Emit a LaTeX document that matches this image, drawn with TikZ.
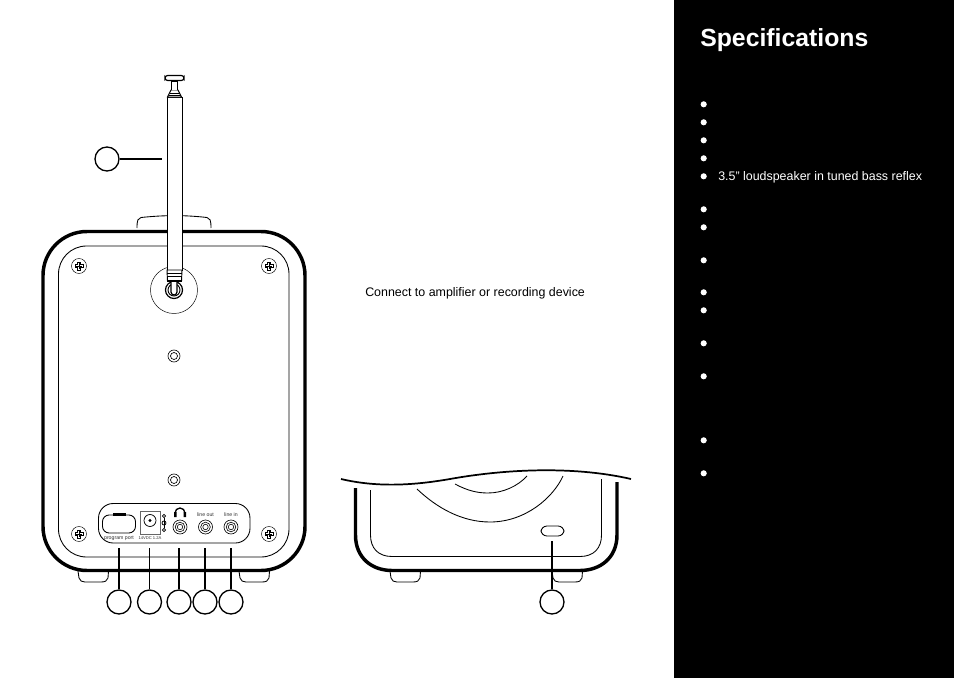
\documentclass[tikz,border=0pt]{standalone}
\usepackage{fontspec}
\setmainfont{Liberation Sans}
\usetikzlibrary{calc}
\tikzset{
  x=0.75pt,y=-0.75pt,
  callout/.style={circle,draw=black,line width=1pt,minimum size=18pt,inner sep=0pt,fill=white},
  leader/.style={line width=1.5pt},
  thinleader/.style={line width=0.9pt},
  heavy/.style={line width=2.6pt},
  fine/.style={line width=0.65pt},
  hair/.style={line width=0.35pt},
  bullet/.style={circle,fill=white,inner sep=0pt,minimum size=4.6pt},
  tiny label/.style={font=\fontsize{3.9}{4}\selectfont,inner sep=0pt,text=black!80}
}
\newcommand{\screwmark}[2]{%
  \draw[hair] (#1,#2) circle (7.5);
  \draw[line width=0.35pt,fill=white] (#1-1.5,#2-4) -- (#1+1.5,#2-4) -- (#1+1.5,#2-1.5) -- (#1+4,#2-1.5) -- (#1+4,#2+1.5) -- (#1+1.5,#2+1.5) -- (#1+1.5,#2+4) -- (#1-1.5,#2+4) -- (#1-1.5,#2+1.5) -- (#1-4,#2+1.5) -- (#1-4,#2-1.5) -- (#1-1.5,#2-1.5) -- cycle;
  \draw[line width=0.5pt] (#1-3,#2)--(#1+3,#2) (#1,#2-3)--(#1,#2+3);
}
\newcommand{\jackmark}[2]{%
  \draw[line width=0.45pt] (#1,#2) circle (7) (#1,#2) circle (4.8) (#1,#2) circle (2.7);
}
\begin{document}
\begin{tikzpicture}
\useasboundingbox (0,0) rectangle (954,678);
\fill[white] (0,0) rectangle (954,678);
\fill[black] (674,0) rectangle (954,678);

% ---- rear view ----
\draw[fine] (137,228) .. controls (137,220) and (138,218) .. (141,217.5) .. controls (165,215) and (185,215) .. (207,217.5) .. controls (210,218) and (211,220) .. (211,228);
\draw[fine,fill=white] (78,571) -- (79,578) .. controls (80,581) and (82,582) .. (85,582) -- (101,582) .. controls (105,582) and (107,581) .. (108,578) -- (108.5,571);
\draw[fine,fill=white] (239,571) -- (240,578) .. controls (241,581) and (243,582) .. (246,582) -- (262,582) .. controls (266,582) and (268,581) .. (269,578) -- (269.5,571);
\draw[heavy,fill=white,rounded corners=33] (43,231.5) rectangle (305,570.5);
\draw[fine,rounded corners=21] (58.5,246) rectangle (289,557);

\screwmark{79}{266}
\screwmark{269}{266}
\screwmark{79}{534}
\screwmark{269}{534}
\draw[hair] (174,290) circle (23.5);
\draw[line width=0.5pt] (174,356) circle (6) (174,356) circle (3.5);
\draw[line width=0.5pt] (174,480) circle (6) (174,480) circle (3.5);

% antenna
\draw[line width=0.9pt] (174,290) circle (8.5);
\draw[line width=0.7pt] (174,290) circle (6);
\draw[line width=0.9pt,fill=white] (171,282) -- (171,292) arc (180:0:3) -- (177,282);
\draw[line width=0.75pt,fill=white] (167,97) rectangle (182,270);
\draw[line width=0.7pt,fill=white] (167,270) -- (182,270) -- (181.5,281.5) -- (167.5,281.5) -- cycle;
\draw[line width=0.5pt] (167.2,273) -- (181.8,273) (167.3,276) -- (181.7,276);
\draw[line width=1.3pt] (167.5,281) -- (181.5,281);
\draw[line width=0.7pt,fill=white] (167.5,97) -- (171,90) -- (178,90) -- (181.5,97) -- cycle;
\draw[line width=0.5pt] (169.5,93) -- (179.5,93) (168.5,95) -- (180.5,95);
\draw[line width=0.7pt,fill=white] (171.5,90) -- (171.5,81) -- (177.5,81) -- (177.5,90);
\draw[line width=0.9pt,fill=white,rounded corners=2] (165,75.5) rectangle (184,80.5);

% connector panel
\draw[fine,rounded corners=11] (98.5,503.5) rectangle (250,543);
\draw[fine,rounded corners=5] (102.5,515) rectangle (135.5,533);
\draw[line width=1.6pt] (113,514.5) -- (126,514.5);
\draw[line width=0.35pt,draw=black!60] (140.5,511) rectangle (160,534);
\draw[line width=0.55pt] (150,520.5) circle (6);
\draw[line width=0.55pt] (150,520.5) circle (1);
\draw[line width=0.6pt] (164,516) circle (1.6) (164,530) circle (1.6) (164,523) circle (2);
\draw[line width=0.6pt] (164,518) -- (164,528);
\jackmark{180}{527}
\jackmark{205.5}{527}
\jackmark{231}{527}
% headphones
\draw[line width=1pt] (175,513) arc (180:360:5);
\fill (174,512) rectangle (176.5,517) (183.5,512) rectangle (186,517);
\node[tiny label] (lblout) at (205.5,515) {line out};
\node[tiny label] (lblin) at (231,515) {line in};
\node[tiny label] (lblprog) at (119,538.5) {program port};
\node[tiny label,font=\fontsize{3.1}{4}\selectfont] (lblpow) at (150,538.5) {14VDC 1.2A};

% callouts
\node[callout] (c1) at (107,159) {};
\coordinate (c1end) at (162,159);
\draw[thinleader] (c1) -- (c1end);
\node[callout] (c2) at (119,602) {};
\node[callout] (c3) at (149.5,602) {};
\node[callout] (c4) at (179,602) {};
\node[callout] (c5) at (205,602) {};
\node[callout] (c6) at (231,602) {};
\coordinate (p2) at (119,548);
\coordinate (p3) at (149.5,548);
\coordinate (p4) at (179,548);
\coordinate (p5) at (205,548);
\coordinate (p6) at (231,548);
\draw[leader] (p2) -- (c2);
\draw[thinleader] (p3) -- (c3);
\draw[leader] (p4) -- (c4);
\draw[leader] (p5) -- (c5);
\draw[leader] (p6) -- (c6);

\node[anchor=base west,inner sep=0pt,font=\fontsize{9.32}{11}\selectfont] (conn) at (365,296) {Connect to amplifier or recording device};

% ---- base view ----
\draw[fine,fill=white] (390,571) -- (391,578) .. controls (392,581) and (394,582) .. (397,582) -- (413,582) .. controls (417,582) and (419,581) .. (420,578) -- (420.5,571);
\draw[fine,fill=white] (552,571) -- (553,578) .. controls (554,581) and (556,582) .. (559,582) -- (575,582) .. controls (579,582) and (581,581) .. (582,578) -- (582.5,571);
\draw[heavy,fill=white] (355.5,488) -- (355.5,535) .. controls (355.5,558) and (372,570.5) .. (392,570.5) -- (580,570.5) .. controls (600,570.5) and (617,558) .. (617,535) -- (617,482);
\draw[fine] (370.5,490) -- (370.5,535) .. controls (370.5,548) and (378,556.5) .. (392,556.5) -- (580,556.5) .. controls (594,556.5) and (601.5,548) .. (601.5,535) -- (601.5,479);
\draw[fine] (417,489) .. controls (437,508) and (462,522) .. (490,522) .. controls (525,522) and (553,498) .. (563,476);
\draw[fine] (455,484) .. controls (468,491) and (478,493) .. (488,493) .. controls (503,493) and (518,486) .. (527,476);
\draw[line width=1.3pt] (341,479) .. controls (375,487) and (410,486) .. (450,479) .. controls (500,470) and (570,465) .. (631,479);
\draw[fine,rounded corners=4.5] (541,526) rectangle (564,536);
\coordinate (p7) at (552,541);
\node[callout] (c7) at (552,602) {};
\draw[thinleader] (p7) -- (c7);

% ---- specifications panel ----
\node[anchor=base west,inner sep=0pt,text=white,font=\bfseries\fontsize{18.6}{20}\selectfont] (spec) at (700,46.5) {Specifications};
\foreach \n/\yy in {a/104.3,b/122.3,c/140.3,d/158.3,e/176.3,f/209.3,g/227.3,h/260.3,i/292.3,j/310.3,k/343.3,l/376.3,m/440.3,n/473.3}
  \node[bullet] (b\n) at (703.7,\yy) {};
\node[anchor=base west,inner sep=0pt,text=white,font=\fontsize{9.32}{11}\selectfont] (spk) at (718,180) {3.5” loudspeaker in tuned bass reflex};
\end{tikzpicture}
\end{document}
